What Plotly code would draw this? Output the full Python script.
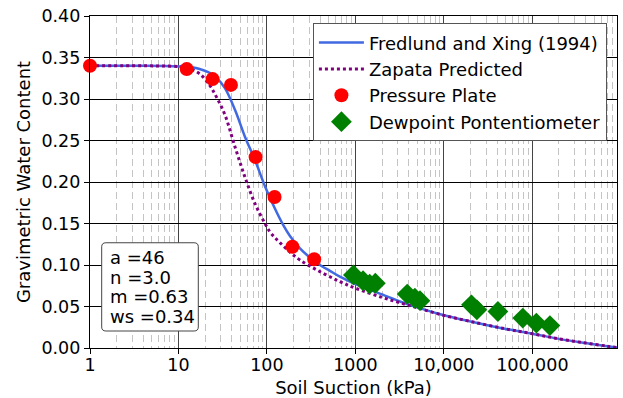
import plotly.graph_objects as go

# Fredlund and Xing (1994) fitted curve
fx_suction = [1, 2, 4, 7, 10, 13, 17, 22, 27, 33.5, 43.5, 56.4, 73.2, 95, 123, 153, 182,
              236, 306, 397, 515, 668, 1005, 2000, 3184, 5000, 10000, 20000, 50000,
              100000, 200000, 400000, 700000, 906000]
fx_water = [0.340, 0.340, 0.340, 0.3398, 0.3393, 0.3385, 0.3365, 0.332, 0.3255, 0.313,
            0.287, 0.2546, 0.2265, 0.195, 0.168, 0.148, 0.135, 0.120, 0.109, 0.100,
            0.093, 0.086, 0.077, 0.0645, 0.056, 0.049, 0.0395, 0.032, 0.023, 0.0172,
            0.011, 0.006, 0.0022, 0.0005]

# Zapata predicted curve
zp_suction = [1, 3, 6, 10, 13, 17.5, 22.7, 27, 33.5, 43.5, 56.4, 73.2, 95, 108, 123, 140,
              180, 236, 397, 668, 1005, 2000, 3184, 5000, 10000, 20000, 50000, 100000,
              200000, 400000, 700000, 906000]
zp_water = [0.340, 0.340, 0.3398, 0.339, 0.337, 0.330, 0.316, 0.302, 0.281, 0.2425, 0.206,
            0.174, 0.150, 0.140, 0.133, 0.127, 0.116, 0.106, 0.092, 0.080, 0.072, 0.061,
            0.0545, 0.0485, 0.0393, 0.032, 0.023, 0.0172, 0.011, 0.006, 0.0022, 0.0005]

# Pressure plate measurements
pp_suction = [1, 12.4, 24.3, 39.2, 74.5, 122, 194, 342]
pp_water = [0.340, 0.336, 0.324, 0.317, 0.230, 0.182, 0.122, 0.107]

# Dewpoint potentiometer measurements
dp_suction = [950, 1220, 1450, 1680, 3850, 4700, 5370, 20500, 23600, 40800, 78000,
              111000, 158000]
dp_water = [0.088, 0.081, 0.077, 0.078, 0.065, 0.060, 0.057, 0.052, 0.046, 0.044, 0.036,
            0.030, 0.027]

x_tickvals = [1, 10, 100, 1000, 10000, 100000]
x_ticktext = ["1", "10", "100", "1000", "10,000", "100,000"]
y_tickvals = [0.00, 0.05, 0.10, 0.15, 0.20, 0.25, 0.30, 0.35, 0.40]

param_lines = ["a =46", "n =3.0", "m =0.63", "ws =0.34"]

FONT = "DejaVu Sans"
FS = 18
TFS = 17.5

fig = go.Figure()
fig.add_trace(go.Scatter(x=fx_suction, y=fx_water, mode="lines", line_shape="spline",
                         name="Fredlund and Xing (1994)",
                         line=dict(color="royalblue", width=2.5)))
fig.add_trace(go.Scatter(x=zp_suction, y=zp_water, mode="lines", line_shape="spline",
                         name="Zapata Predicted",
                         line=dict(color="purple", width=3, dash="dot")))
fig.add_trace(go.Scatter(x=pp_suction, y=pp_water, mode="markers", name="Pressure Plate",
                         cliponaxis=False,
                         marker=dict(symbol="circle", size=14, color="red", line=dict(width=0))))
fig.add_trace(go.Scatter(x=dp_suction, y=dp_water, mode="markers",
                         name="Dewpoint Pontentiometer",
                         marker=dict(symbol="diamond", size=16, color="green", line=dict(width=0))))

# parameter text box (rounded rectangle in paper coords)
x0, x1, y0, y1 = 0.0222, 0.2055, 0.0512, 0.317
rx, ry = 0.008, 0.012
box_path = (f"M {x0+rx},{y0} L {x1-rx},{y0} Q {x1},{y0} {x1},{y0+ry} "
            f"L {x1},{y1-ry} Q {x1},{y1} {x1-rx},{y1} L {x0+rx},{y1} "
            f"Q {x0},{y1} {x0},{y1-ry} L {x0},{y0+ry} Q {x0},{y0} {x0+rx},{y0} Z")

line_py = [257, 277, 296.5, 316.5]
annotations = []
for txt, py in zip(param_lines, line_py):
    annotations.append(dict(text=txt, xref="paper", yref="paper",
                            x=0.0336, y=(348 - py) / 332, xanchor="left", yanchor="middle",
                            align="left", showarrow=False,
                            font=dict(family=FONT, size=FS)))

fig.update_layout(
    width=623, height=398,
    margin=dict(l=90, r=6, t=16, b=50, autoexpand=False),
    paper_bgcolor="white", plot_bgcolor="white",
    font=dict(family=FONT, size=FS, color="black"),
    showlegend=True,
    legend=dict(x=0.423, y=0.978, xanchor="left", yanchor="top",
                bgcolor="white", bordercolor="#555", borderwidth=1,
                font=dict(family=FONT, size=FS), itemwidth=45,
                tracegroupgap=0),
    xaxis=dict(type="log", range=[0, 5.957], automargin=True,
               tickvals=x_tickvals, ticktext=x_ticktext,
               ticks="outside", ticklen=5, tickwidth=1.2, tickcolor="black",
               ticklabelstandoff=-4,
               showline=True, linecolor="black", linewidth=1.3, mirror=True,
               showgrid=True, gridcolor="#444", gridwidth=1,
               minor=dict(dtick="D1", showgrid=True, gridcolor="#c4c4c4",
                          griddash="7px,4px", gridwidth=1),
               title=dict(text="Soil Suction (kPa)", font=dict(size=FS), standoff=8),
               tickfont=dict(size=TFS), zeroline=False),
    yaxis=dict(range=[0, 0.40], tickvals=y_tickvals, tickformat=".2f", automargin=True,
               ticks="outside", ticklen=5, tickwidth=1.2, tickcolor="black",
               showline=True, linecolor="black", linewidth=1.3, mirror=True,
               showgrid=True, gridcolor="black", gridwidth=1,
               title=dict(text="Gravimetric Water Content", font=dict(size=FS), standoff=6),
               tickfont=dict(size=TFS), zeroline=False),
    shapes=[dict(type="path", path=box_path, xref="paper", yref="paper",
                 fillcolor="white", line=dict(color="#444", width=1), layer="above")],
    annotations=annotations,
)

fig.write_html("out.html")
